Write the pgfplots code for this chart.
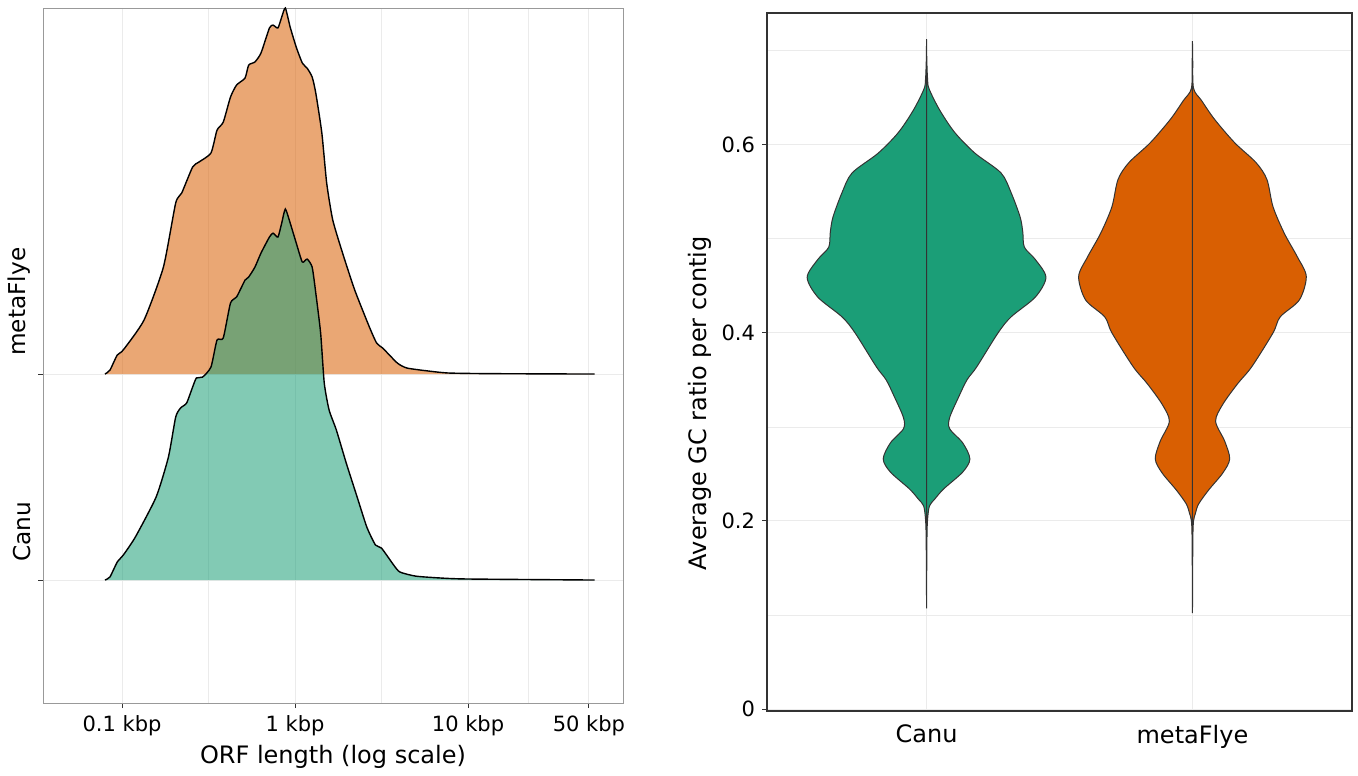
\documentclass[border=0pt]{standalone}
\usepackage{fontspec}
\setmainfont{DejaVu Sans}
\usepackage{pgfplots}
\usepackage{pgfplotstable}
\pgfplotsset{compat=1.18}
\usepgfplotslibrary{fillbetween}
\definecolor{canu}{HTML}{1B9E77}
\definecolor{flye}{HTML}{D95F02}
\definecolor{gridc}{HTML}{EBEBEB}
\definecolor{framec}{HTML}{333333}

% ridge densities, x = log10(ORF length in bp)
\pgfplotstableread{
x h
1.901 0
1.930 0.019
1.972 0.092
2.007 0.117
2.127 0.262
2.239 0.519
2.310 0.830
2.345 0.879
2.408 1.005
2.444 1.029
2.514 1.073
2.549 1.184
2.585 1.223
2.627 1.345
2.662 1.403
2.711 1.437
2.732 1.500
2.768 1.515
2.803 1.558
2.852 1.680
2.873 1.694
2.901 1.680
2.923 1.733
2.944 1.777
2.972 1.684
3.007 1.587
3.042 1.510
3.070 1.485
3.099 1.442
3.120 1.364
3.155 1.170
3.183 0.927
3.218 0.748
3.275 0.587
3.345 0.408
3.430 0.228
3.472 0.150
3.507 0.126
3.592 0.053
3.648 0.029
3.768 0.015
3.887 0.005
4.120 0.002
4.732 0
}\flyeridge

\pgfplotstableread{
x h
1.901 0
1.930 0.015
1.972 0.087
2.007 0.121
2.077 0.209
2.197 0.403
2.268 0.597
2.310 0.791
2.338 0.835
2.373 0.859
2.408 0.937
2.430 0.981
2.465 0.985
2.514 1.034
2.549 1.165
2.585 1.175
2.627 1.345
2.662 1.374
2.711 1.456
2.732 1.471
2.768 1.519
2.803 1.587
2.852 1.665
2.873 1.684
2.901 1.665
2.923 1.733
2.944 1.801
2.972 1.733
3.007 1.636
3.042 1.544
3.070 1.558
3.099 1.519
3.120 1.393
3.148 1.199
3.169 0.956
3.197 0.825
3.239 0.728
3.296 0.568
3.359 0.403
3.415 0.257
3.465 0.170
3.500 0.155
3.570 0.073
3.606 0.039
3.697 0.019
3.838 0.010
4.000 0.005
4.732 0
}\canuridge

% violin half widths (category units)
\pgfplotstableread{
v w
0.712 0
0.690 0.001
0.669 0.004
0.659 0.010
0.637 0.049
0.613 0.106
0.591 0.182
0.570 0.280
0.549 0.318
0.523 0.352
0.507 0.362
0.491 0.368
0.478 0.409
0.459 0.449
0.438 0.409
0.417 0.318
0.400 0.269
0.364 0.189
0.350 0.152
0.332 0.121
0.310 0.087
0.298 0.087
0.283 0.136
0.266 0.163
0.252 0.136
0.234 0.064
0.223 0.030
0.216 0.011
0.202 0.004
0.180 0.0015
0.107 0
}\canuviolin

\pgfplotstableread{
v w
0.710 0
0.690 0.001
0.660 0.004
0.647 0.034
0.627 0.083
0.602 0.159
0.581 0.239
0.563 0.280
0.534 0.303
0.506 0.345
0.481 0.394
0.460 0.428
0.435 0.402
0.417 0.330
0.400 0.303
0.364 0.223
0.346 0.170
0.324 0.114
0.306 0.087
0.285 0.121
0.266 0.140
0.251 0.114
0.233 0.061
0.218 0.023
0.208 0.011
0.200 0.004
0.180 0.0015
0.102 0
}\flyeviolin

\begin{document}
\begin{tikzpicture}
\path (0pt,0pt) rectangle (679pt,-386.5pt);

% left: ridgeline of ORF lengths
\begin{axis}[at={(21.5pt,-351.5pt)}, anchor=south west,
scale only axis, width=290pt, height=347.5pt,
xmin=1.543, xmax=4.896, ymin=0.403, ymax=3.777,
xtick={2,3,4,4.69897}, xticklabels={0.1 kbp,1 kbp,10 kbp,50 kbp},
minor xtick={2.5,3.5,4.349},
ytick={1,2}, yticklabels={},
tick pos=left,
grid=both,
major grid style={gridc, line width=0.5pt},
minor grid style={gridc, line width=0.4pt},
axis line style={black!40, line width=0.5pt},
tick align=outside, major tick length=2.5pt, minor tick length=0pt,
tick style={framec, line width=0.5pt},
xticklabel style={font=\fontsize{10.5}{12}\selectfont},
xlabel={ORF length (log scale)},
xlabel style={font=\fontsize{12}{14}\selectfont, yshift=2pt},
clip=false]
\addplot[draw=none, fill=flye, fill opacity=0.55, smooth, tension=0.35] table[x=x, y expr=\thisrow{h}+2] {\flyeridge} -- cycle;
\addplot[black, line width=0.7pt, smooth, tension=0.35] table[x=x, y expr=\thisrow{h}+2] {\flyeridge};
\addplot[draw=none, fill=canu, fill opacity=0.55, smooth, tension=0.35] table[x=x, y expr=\thisrow{h}+1] {\canuridge} -- cycle;
\addplot[black, line width=0.7pt, smooth, tension=0.35] table[x=x, y expr=\thisrow{h}+1] {\canuridge};
\node[xshift=-6pt, yshift=9pt, rotate=90, anchor=south west, inner sep=0pt, font=\fontsize{11.6}{13}\selectfont] at (axis cs:1.543,2) {metaFlye};
\node[xshift=-6pt, yshift=9pt, rotate=90, anchor=south west, inner sep=0pt, font=\fontsize{11.6}{13}\selectfont] at (axis cs:1.543,1) {Canu};
\end{axis}

% right: violins of GC ratio
\begin{axis}[at={(383.5pt,-355.5pt)}, anchor=south west,
scale only axis, width=292.5pt, height=349pt,
xmin=0.4, xmax=2.6, ymin=-0.002, ymax=0.74,
xtick={1,2}, xticklabels={Canu,metaFlye},
ytick={0,0.2,0.4,0.6}, yticklabels={0,0.2,0.4,0.6},
minor ytick={0.1,0.3,0.5,0.7},
tick pos=left,
grid=both,
major grid style={gridc, line width=0.5pt},
minor grid style={gridc, line width=0.4pt},
axis line style={framec, line width=0.8pt},
tick align=outside, major tick length=2.5pt, minor tick length=0pt,
tick style={framec, line width=0.5pt},
xtick style={draw=none},
xticklabel style={font=\fontsize{12}{14}\selectfont, yshift=-1pt},
yticklabel style={font=\fontsize{10.5}{12}\selectfont},
ylabel={Average GC ratio per contig},
ylabel shift=-2pt,
ylabel style={font=\fontsize{12}{14}\selectfont, at={(ticklabel cs:0.441)}},
axis on top=false]
\addplot[draw=none, smooth, name path=cr] table[x expr=1+\thisrow{w}, y=v] {\canuviolin};
\addplot[draw=none, smooth, name path=cl] table[x expr=1-\thisrow{w}, y=v] {\canuviolin};
\addplot[fill=canu, draw=framec, line width=0.5pt] fill between[of=cr and cl];
\addplot[framec, line width=0.6pt] coordinates {(1,0.107) (1,0.712)};
\addplot[draw=none, smooth, name path=fr] table[x expr=2+\thisrow{w}, y=v] {\flyeviolin};
\addplot[draw=none, smooth, name path=fl] table[x expr=2-\thisrow{w}, y=v] {\flyeviolin};
\addplot[fill=flye, draw=framec, line width=0.5pt] fill between[of=fr and fl];
\addplot[framec, line width=0.6pt] coordinates {(2,0.102) (2,0.710)};
\end{axis}
\end{tikzpicture}
\end{document}
